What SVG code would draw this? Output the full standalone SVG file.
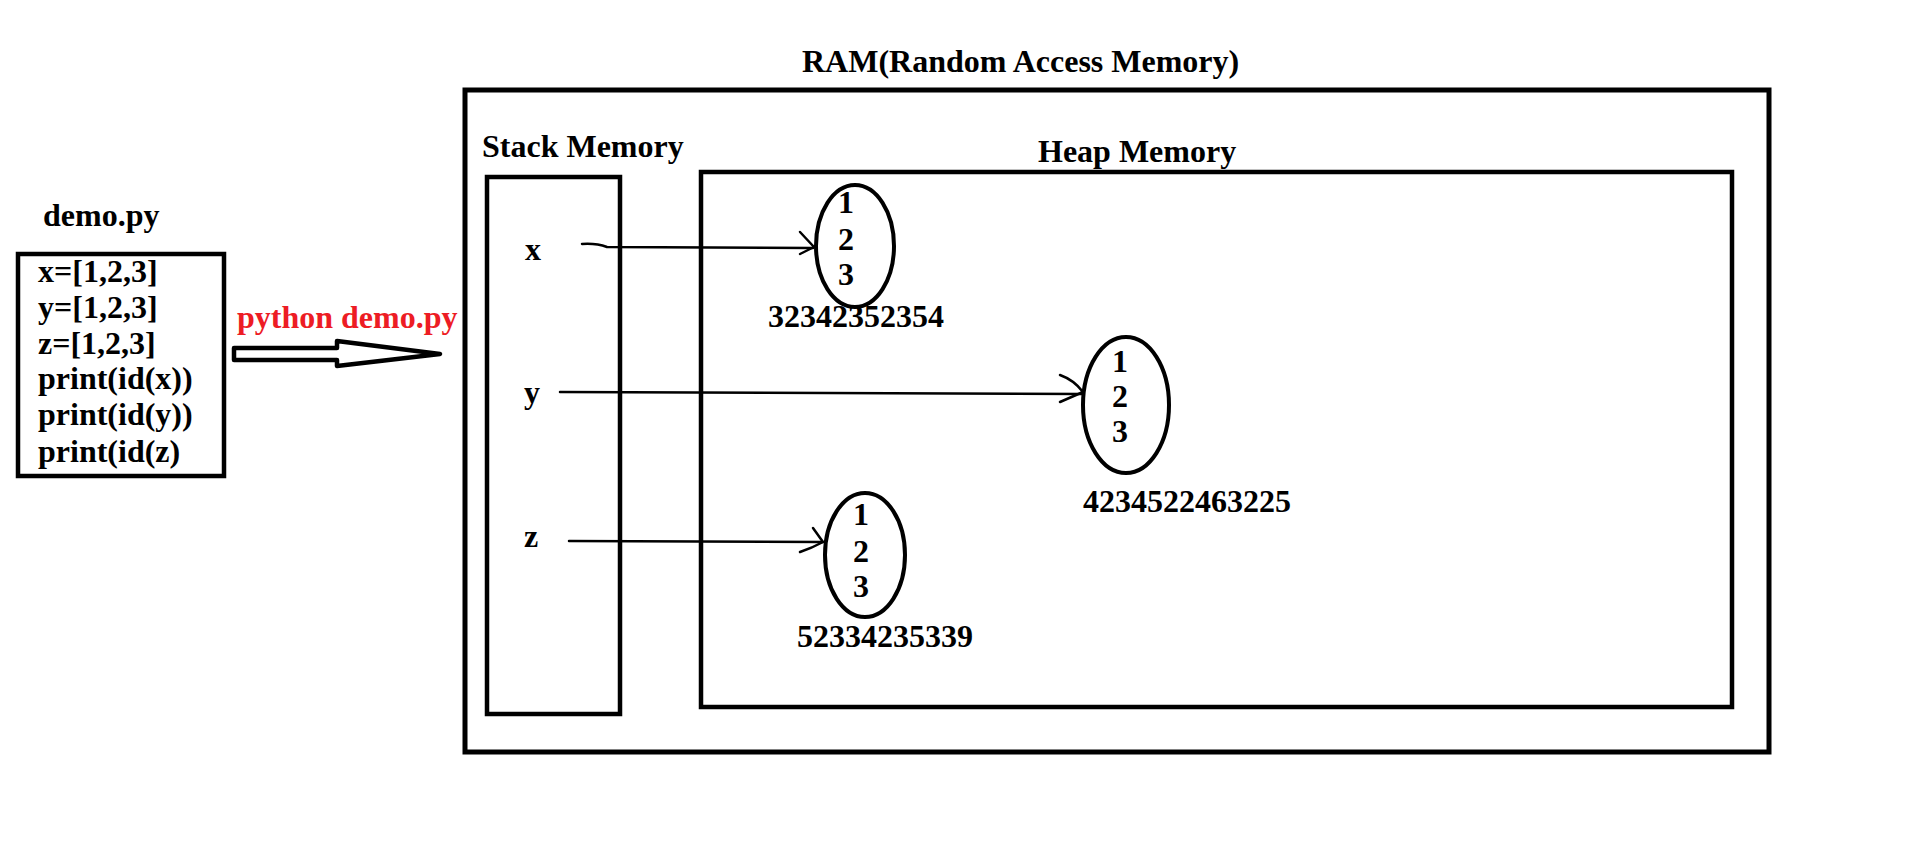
<svg xmlns="http://www.w3.org/2000/svg" width="1914" height="864" viewBox="0 0 1914 864">
<style>
  text { font-family: "Liberation Serif", "Times New Roman", serif; font-weight: bold; font-size: 32px; fill: #000; }
  .red { fill: #ed1c24; }
  .box { fill: none; stroke: #000; stroke-width: 4.5; }
  .ell { fill: none; stroke: #000; stroke-width: 4; }
  .con { fill: none; stroke: #000; stroke-width: 2.5; stroke-linecap: round; stroke-linejoin: round; }
  .mid { text-anchor: middle; }
</style>
<rect width="1914" height="864" fill="#fff"/>

<g id="demo-file">
  <text x="43" y="226">demo.py</text>
  <rect class="box" x="18" y="254" width="206" height="222"/>
  <text x="38" y="282">x=[1,2,3]</text>
  <text x="38" y="318">y=[1,2,3]</text>
  <text x="38" y="354">z=[1,2,3]</text>
  <text x="38" y="389">print(id(x))</text>
  <text x="38" y="425">print(id(y))</text>
  <text x="38" y="462">print(id(z)</text>
</g>

<g id="run-arrow">
  <text class="red" x="237" y="328">python demo.py</text>
  <polygon points="234,348 337,348 337,341 440,354 337,366 337,360 234,360" fill="#fff" stroke="#000" stroke-width="4.5" stroke-linejoin="round"/>
</g>

<g id="ram">
  <text x="802" y="72">RAM(Random Access Memory)</text>
  <rect x="465" y="90" width="1304" height="662" fill="none" stroke="#000" stroke-width="5"/>
</g>

<g id="stack">
  <text x="482" y="157">Stack Memory</text>
  <rect class="box" x="487" y="177" width="133" height="537"/>
  <text x="525" y="260">x</text>
  <text x="524" y="403">y</text>
  <text x="524" y="547">z</text>
</g>

<g id="heap">
  <text x="1038" y="162">Heap Memory</text>
  <rect class="box" x="701" y="172" width="1031" height="535"/>
</g>

<g id="obj-x">
  <ellipse class="ell" cx="855" cy="246" rx="39" ry="61"/>
  <text class="mid" x="846" y="213">1</text>
  <text class="mid" x="846" y="250">2</text>
  <text class="mid" x="846" y="285">3</text>
  <text x="768" y="327">32342352354</text>
</g>

<g id="obj-y">
  <ellipse class="ell" cx="1126" cy="405" rx="43" ry="68"/>
  <text class="mid" x="1120" y="372">1</text>
  <text class="mid" x="1120" y="407">2</text>
  <text class="mid" x="1120" y="442">3</text>
  <text x="1083" y="512">4234522463225</text>
</g>

<g id="obj-z">
  <ellipse class="ell" cx="865" cy="555" rx="40" ry="62"/>
  <text class="mid" x="861" y="525">1</text>
  <text class="mid" x="861" y="562">2</text>
  <text class="mid" x="861" y="597">3</text>
  <text x="797" y="647">52334235339</text>
</g>

<g id="connectors">
  <path class="con" d="M582,244 Q596,243 607,247 L813,248"/>
  <path class="con" d="M800,232 L814,247 L800,254"/>
  <path class="con" d="M560,392 L1082,394"/>
  <path class="con" d="M1060,375 Q1074,380 1083,392 L1060,402"/>
  <path class="con" d="M569,541 L823,542"/>
  <path class="con" d="M813,528 L823,542 Q812,548 800,552"/>
</g>
</svg>
